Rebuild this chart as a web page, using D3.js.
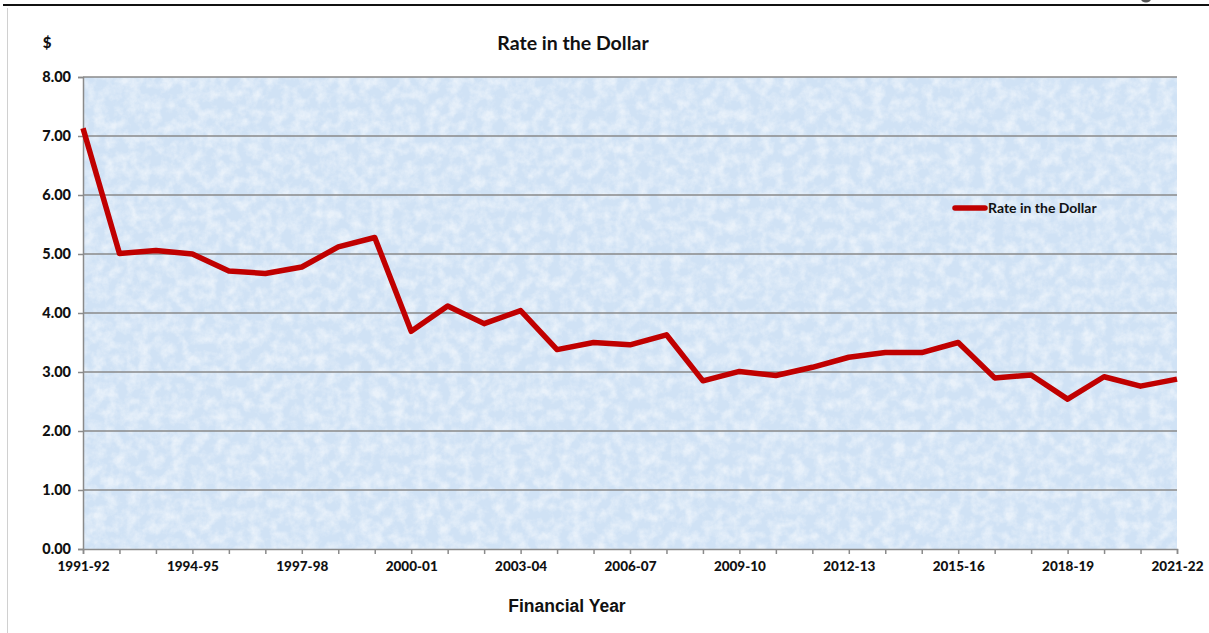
<!DOCTYPE html>
<html>
<head>
<meta charset="utf-8">
<script src="https://cdn.jsdelivr.net/npm/d3@7"></script>
<style>
  body { margin: 0; background: #fff; }
  svg { display: block; }
</style>
</head>
<body>
<svg></svg>
<script>
// financial years and the rate in the dollar
const years = ["1991-92", "1992-93", "1993-94", "1994-95", "1995-96", "1996-97",
    "1997-98", "1998-99", "1999-00", "2000-01", "2001-02", "2002-03", "2003-04",
    "2004-05", "2005-06", "2006-07", "2007-08", "2008-09", "2009-10", "2010-11",
    "2011-12", "2012-13", "2013-14", "2014-15", "2015-16", "2016-17", "2017-18",
    "2018-19", "2019-20", "2020-21", "2021-22"];
const rates = [7.13, 5.01, 5.06, 5.00, 4.71, 4.67, 4.78, 5.12, 5.28, 3.69, 4.12,
    3.82, 4.04, 3.38, 3.50, 3.46, 3.63, 2.85, 3.01, 2.94, 3.08, 3.25, 3.33, 3.33,
    3.50, 2.90, 2.95, 2.54, 2.92, 2.76, 2.88];
const yTicks = [0, 1, 2, 3, 4, 5, 6, 7, 8];
const xLabels = ["1991-92", "1994-95", "1997-98", "2000-01", "2003-04", "2006-07",
    "2009-10", "2012-13", "2015-16", "2018-19", "2021-22"];

const svgWidth = 1209;
const svgHeight = 633;

const svg = d3.select("svg")
    .attr("width", svgWidth)
    .attr("height", svgHeight);

const margin = {top: 77, right: 32, bottom: 84, left: 83};
const width = svgWidth - margin.left - margin.right;
const height = svgHeight - margin.top - margin.bottom;

const font = "Lato, 'Open Sans', sans-serif";

// frame bits from the page around the chart
svg.append("line")
    .attr("x1", 3).attr("x2", svgWidth).attr("y1", 5).attr("y2", 5)
    .attr("stroke", "#111").attr("stroke-width", 2);
svg.append("line")
    .attr("x1", 7.5).attr("x2", 7.5).attr("y1", 8).attr("y2", svgHeight)
    .attr("stroke", "#d0d0d0").attr("stroke-width", 1);
// bottom of a cut-off glyph above the frame
svg.append("ellipse")
    .attr("cx", 1146).attr("cy", -1).attr("rx", 5).attr("ry", 3.5)
    .attr("fill", "#555");

// paper-like texture for the plot area
const defs = svg.append("defs");
const filt = defs.append("filter").attr("id", "tex")
    .attr("x", 0).attr("y", 0).attr("width", "100%").attr("height", "100%");
filt.append("feTurbulence")
    .attr("type", "fractalNoise")
    .attr("baseFrequency", "0.09")
    .attr("numOctaves", 4)
    .attr("seed", 7);
filt.append("feColorMatrix")
    .attr("type", "matrix")
    .attr("values", "0 0 0 0 1  0 0 0 0 1  0 0 0 0 1  0 0 0 -2.0 1.3");

const g = svg.append("g")
    .attr("transform", "translate(" + margin.left + "," + margin.top + ")");

g.append("rect")
    .attr("width", width).attr("height", height)
    .attr("fill", "#d0e2f5");
g.append("rect")
    .attr("width", width).attr("height", height)
    .attr("filter", "url(#tex)")
    .attr("opacity", 0.55);

const x = d3.scalePoint()
    .domain(years)
    .range([0, width]);

const y = d3.scaleLinear()
    .domain([0, 8])
    .range([height, 0]);

// gridlines
g.selectAll(".grid")
    .data(yTicks.filter(d => d > 0))
    .enter().append("line")
    .attr("class", "grid")
    .attr("x1", 0).attr("x2", width)
    .attr("y1", d => y(d)).attr("y2", d => y(d))
    .attr("stroke", "#8a8a8a").attr("stroke-width", 1.5);

// x axis
const xAxis = g.append("g")
    .attr("transform", "translate(0," + height + ")")
    .call(d3.axisBottom(x).tickSize(5).tickFormat(d => xLabels.includes(d) ? d : ""));
xAxis.select(".domain").attr("stroke", "#8a8a8a").attr("stroke-width", 1.5);
xAxis.selectAll(".tick line").attr("stroke", "#8a8a8a").attr("stroke-width", 1.5);
xAxis.selectAll(".tick text")
    .attr("y", 12)
    .attr("font-family", font).attr("font-size", 13.5).attr("font-weight", 900)
    .attr("fill", "#111");

// y axis
const yAxis = g.append("g")
    .call(d3.axisLeft(y).tickValues(yTicks).tickSize(5).tickFormat(d3.format(".2f")));
yAxis.select(".domain").attr("stroke", "#8a8a8a").attr("stroke-width", 1.5);
yAxis.selectAll(".tick line").attr("stroke", "#8a8a8a").attr("stroke-width", 1.5);
yAxis.selectAll(".tick text")
    .attr("x", -12)
    .attr("font-family", font).attr("font-size", 14.5).attr("font-weight", 900)
    .attr("fill", "#111");

// the series
const line = d3.line()
    .x((d, i) => x(years[i]))
    .y(d => y(d));

g.append("path")
    .datum(rates)
    .attr("d", line)
    .attr("fill", "none")
    .attr("stroke", "#c00000")
    .attr("stroke-width", 5.5)
    .attr("stroke-linejoin", "round");

// titles
svg.append("text")
    .attr("x", 573).attr("y", 50)
    .attr("text-anchor", "middle")
    .attr("font-family", font).attr("font-size", 19.5).attr("font-weight", "bold")
    .attr("fill", "#111")
    .text("Rate in the Dollar");

svg.append("text")
    .attr("x", 47).attr("y", 48)
    .attr("text-anchor", "middle")
    .attr("font-family", font).attr("font-size", 15).attr("font-weight", 900)
    .attr("fill", "#111")
    .text("$");

svg.append("text")
    .attr("x", 567).attr("y", 612)
    .attr("text-anchor", "middle")
    .attr("font-family", "'Liberation Sans', Arial, sans-serif")
    .attr("font-size", 17.5).attr("font-weight", "bold")
    .attr("fill", "#111")
    .text("Financial Year");

// legend
const legend = svg.append("g").attr("transform", "translate(955,208)");
legend.append("line")
    .attr("x1", 0).attr("x2", 30)
    .attr("stroke", "#c00000").attr("stroke-width", 5.5).attr("stroke-linecap", "round");
legend.append("text")
    .attr("x", 33).attr("dy", "0.35em")
    .attr("font-family", font).attr("font-size", 14).attr("font-weight", "bold")
    .attr("fill", "#111")
    .text("Rate in the Dollar");
</script>
</body>
</html>
